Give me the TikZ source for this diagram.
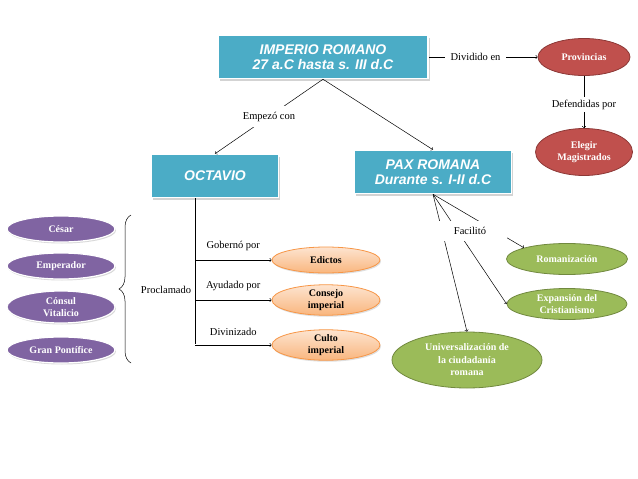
\documentclass[tikz,border=0pt]{standalone}
\usepackage{fontspec}
\setmainfont{Liberation Serif}
\newfontfamily\titlefont{Liberation Sans}
\usetikzlibrary{arrows,shapes.geometric,shadows,decorations.pathreplacing}
\definecolor{tealbox}{HTML}{4BACC6}
\definecolor{redfill}{HTML}{C0504D}
\definecolor{redline}{HTML}{8C3836}
\definecolor{purplefill}{HTML}{8064A2}
\definecolor{orangetop}{HTML}{FDE4D0}
\definecolor{orangebot}{HTML}{F9B67E}
\definecolor{orangeline}{HTML}{F79646}
\definecolor{greenfill}{HTML}{9BBB59}
\definecolor{greenline}{HTML}{71893F}

\begin{document}
\begin{tikzpicture}[->,>=to,x=1pt,y=1pt,node distance=40pt,line width=0.5pt]
\tikzstyle{every node}=[font=\fontsize{10.5}{12.5}\selectfont]
\tikzstyle{titlebox}=[rectangle,draw=white,line width=1.5pt,fill=tealbox,text=white,align=center,
  font=\titlefont\bfseries\itshape\fontsize{14}{15}\selectfont,
  drop shadow={opacity=0.35,shadow xshift=1.5pt,shadow yshift=-2pt}]
\tikzstyle{bubble}=[ellipse,inner sep=0pt,align=center,font=\bfseries\fontsize{10}{12.5}\selectfont]
\tikzstyle{redbubble}=[bubble,fill=redfill,draw=redline,line width=0.8pt,text=white]
\tikzstyle{purplebubble}=[bubble,fill=purplefill,draw=white,line width=1.2pt,text=white,
  minimum width=108pt,minimum height=26pt,
  drop shadow={opacity=0.3,shadow xshift=1pt,shadow yshift=-1.5pt}]
\tikzstyle{orangebubble}=[bubble,top color=orangetop,bottom color=orangebot,draw=orangeline,
  line width=0.8pt,minimum width=108pt,minimum height=26pt,
  drop shadow={opacity=0.25,shadow xshift=1pt,shadow yshift=-1.5pt}]
\tikzstyle{greenbubble}=[bubble,fill=greenfill,draw=greenline,line width=0.8pt,text=white]
\tikzstyle{lbl}=[fill=white,inner xsep=6pt,inner ysep=6pt]

\useasboundingbox (0,0) rectangle (638,-479);

\node [titlebox,minimum width=210pt,minimum height=43pt] (imp) at (323,-57) {IMPERIO ROMANO\\27 a.C hasta s. III d.C};
\node [redbubble,minimum width=92pt,minimum height=37pt] (prov) [right of=imp,node distance=261pt] {Provincias};
\node [redbubble,minimum width=97pt,minimum height=47pt] (mag) [below of=prov,node distance=95pt] {Elegir\\Magistrados};
\node [titlebox,minimum width=127pt,minimum height=43pt] (oct) at (215,-176) {OCTAVIO};
\node [titlebox,minimum width=157pt,minimum height=43pt] (pax) at (433,-172) {PAX ROMANA\\Durante s. I-II d.C};

\node [purplebubble] (cesar) at (61,-229) {César};
\node [purplebubble] (emperador) [below of=cesar,node distance=37pt] {Emperador};
\node [purplebubble,minimum height=32pt] (consul) [below of=emperador,node distance=41pt] {Cónsul\\Vitalicio};
\node [purplebubble] (pontifice) [below of=consul,node distance=43pt] {Gran Pontífice};
\node (proc) at (166,-290) {Proclamado};

\node [orangebubble] (edictos) at (326,-260) {Edictos};
\node [orangebubble,minimum height=30pt] (consejo) [below of=edictos,node distance=40pt] {Consejo\\imperial};
\node [orangebubble,minimum height=28pt] (culto) [below of=consejo,node distance=45pt] {Culto\\imperial};

\node [greenbubble,minimum width=121pt,minimum height=31pt] (roman) at (567,-259) {Romanización};
\node [greenbubble,minimum width=120pt,minimum height=31pt] (cristianismo) [below of=roman,node distance=45pt] {Expansión del\\Cristianismo};
\node [greenbubble,minimum width=150pt,minimum height=56pt] (ciudadania) at (467,-360) {Universalización de\\la ciudadanía\\romana};

\coordinate (trunk) at (195,-344);
\coordinate (bracetop) at (131,-215);
\coordinate (bracebot) at (131,-363);

\path (imp) edge node [lbl,pos=0.43] {Dividido en} (prov)
      (prov) edge node [lbl,pos=0.55,inner ysep=3pt] {Defendidas por} (mag)
      (imp.south) edge node [lbl,inner xsep=3pt] {Empezó con} (oct.north)
      (imp.south) edge (pax.north);

\draw [-] (oct.south -| trunk) -- (trunk);
\path (trunk |- edictos) edge node [above=6pt] {Gobernó por} (edictos)
      (trunk |- consejo) edge node [above=6pt] {Ayudado por} (consejo)
      (trunk |- culto) edge node [above=6pt] {Divinizado} (culto);
\draw [-,decorate,decoration={brace,amplitude=12pt}] (bracebot) -- (bracetop);

\path (pax.south) edge (ciudadania.north)
      (pax.south) edge (cristianismo.west)
      (pax.south) edge (roman.north west);
\node [lbl,minimum width=74pt,inner ysep=6pt] (facil) at (470,-231) {Facilitó};

	\end{tikzpicture}
\end{document}
